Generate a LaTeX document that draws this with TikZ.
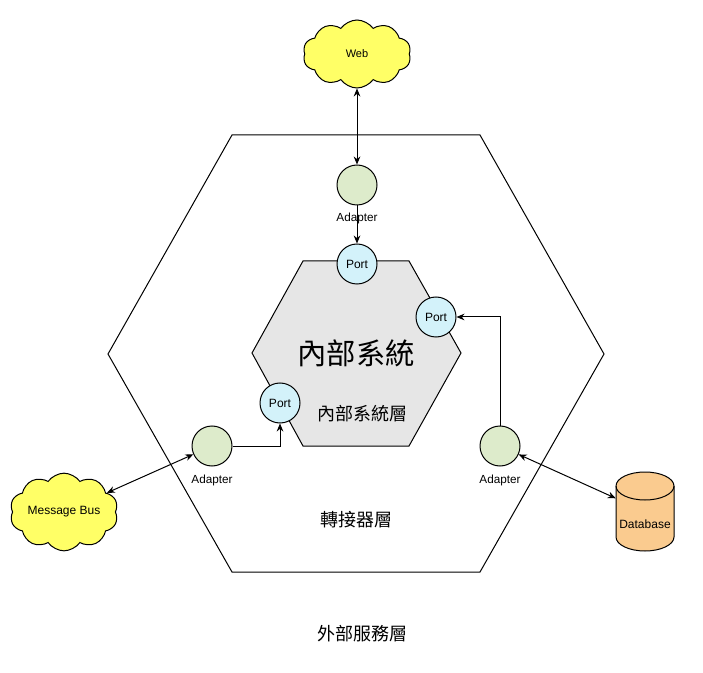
\documentclass[tikz,border=0pt]{standalone}
\usepackage{fontspec}
\setmainfont{Liberation Sans}
\newfontfamily\cjk{Noto Sans CJK TC}
\usetikzlibrary{shapes.symbols,arrows.meta}
\definecolor{cloudfill}{HTML}{FFFF66}
\definecolor{adfill}{HTML}{DDEBCB}
\definecolor{portfill}{HTML}{D3F2FA}
\definecolor{dbfill}{HTML}{FACB8F}
\definecolor{innerfill}{HTML}{E6E6E6}
\tikzset{
  adapter/.style={circle,draw,fill=adfill,minimum size=30pt,inner sep=0pt,line width=0.75pt},
  port/.style={circle,draw,fill=portfill,minimum size=30pt,inner sep=0pt,line width=0.75pt,font=\fontsize{9}{10}\selectfont},
  cloudnode/.style={cloud,draw,fill=cloudfill,cloud puffs=10,cloud puff arc=110,aspect=1.6,line width=0.75pt,inner sep=0pt},
  lbl/.style={font=\fontsize{8.8}{10}\selectfont},
  conn/.style={line width=0.75pt,-{Stealth[length=6pt,width=5pt]}},
  biconn/.style={line width=0.75pt,{Stealth[length=6pt,width=5pt]}-{Stealth[length=6pt,width=5pt]}},
  layertxt/.style={font=\cjk\fontsize{13.5}{15}\selectfont}
}
\begin{document}
\begin{tikzpicture}[x=0.75pt,y=-0.75pt]
\useasboundingbox (0,0) rectangle (703,673);
% outer hexagon
\draw[line width=0.75pt] (232,135) -- (480,135) -- (604,354) -- (480,572) -- (232,572) -- (108,354) -- cycle;
% inner hexagon
\draw[line width=0.75pt,fill=innerfill] (303,261) -- (409,261) -- (461,353) -- (409,446) -- (303,446) -- (252,353) -- cycle;
\node[font=\cjk\fontsize{22}{24}\selectfont] (inner) at (356,353) {內部系統};
\node[layertxt] (innerlayer) at (362,414) {內部系統層};
\node[layertxt] (adlayer) at (356,520) {轉接器層};
\node[layertxt] (extlayer) at (362,634) {外部服務層};
% ports
\node[port] (pT) at (357,264) {Port};
\node[port] (pR) at (436,317) {Port};
\node[port] (pBL) at (280,403) {Port};
% adapters
\node[adapter] (adT) at (357,185) {};
\node[adapter] (adL) at (212,446) {};
\node[adapter] (adR) at (500,446) {};
\node[lbl] (adTl) at (357,218) {Adapter};
\node[lbl] (adLl) at (212,480) {Adapter};
\node[lbl] (adRl) at (500,480) {Adapter};
% clouds
\node[cloudnode,minimum width=81pt,minimum height=51pt,font=\fontsize{8.25}{9}\selectfont] (web) at (357,54) {Web};
\node[cloudnode,minimum width=81pt,minimum height=52pt,font=\fontsize{9}{10}\selectfont] (mbus) at (64,512) {Message Bus};
% database cylinder
\fill[dbfill] (616,486) -- (616,537) arc[start angle=180,end angle=0,x radius=29,y radius=14] -- (674,486) arc[start angle=0,end angle=-180,x radius=29,y radius=14] -- cycle;
\draw[line width=0.75pt] (616,486) -- (616,537) arc[start angle=180,end angle=0,x radius=29,y radius=14] -- (674,486) arc[start angle=0,end angle=-180,x radius=29,y radius=14];
\draw[line width=0.75pt] (616,486) arc[start angle=180,end angle=0,x radius=29,y radius=14];
\node[minimum width=43.5pt,minimum height=59pt,inner sep=0pt] (db) at (645,511.5) {};
\node[font=\fontsize{9}{10}\selectfont] (dbt) at (645,524) {Database};
% connectors
\draw[biconn] (web) -- (adT);
\draw[conn] (adT) -- (pT);
\draw[conn] (adL.east) -| (pBL.south);
\draw[conn] (adR.north) |- (pR.east);
\draw[biconn] (mbus) -- (adL);
\draw[biconn] (adR) -- (db);
\end{tikzpicture}
\end{document}
